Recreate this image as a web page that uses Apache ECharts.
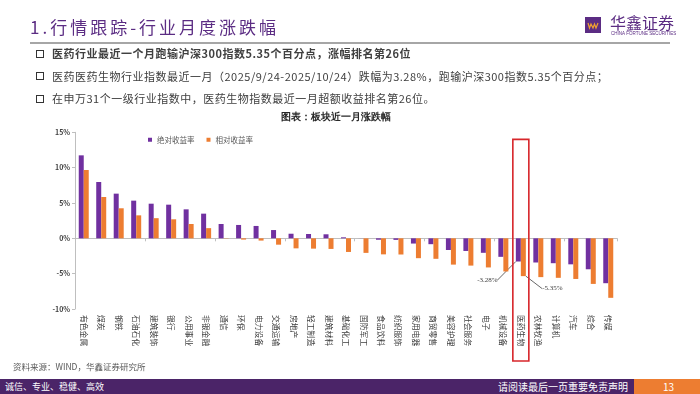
<!DOCTYPE html>
<html><head><meta charset="utf-8">
<script src="https://cdn.jsdelivr.net/npm/echarts@6/dist/echarts.min.js"></script>
<style>
html,body{margin:0;padding:0;width:700px;height:394px;overflow:hidden;background:#fff;font-family:"Noto Sans CJK SC","Noto Sans",sans-serif;}
#chart{position:absolute;left:0;top:0;width:700px;height:394px;}
.t{position:absolute;white-space:nowrap;line-height:1;z-index:5;}
.sq{position:absolute;width:6px;height:6px;border:1.6px solid #333;z-index:5;}
.bul{font-size:11px;letter-spacing:0.5px;color:#404040;left:52px;}
</style></head><body>
<div id="chart"></div>
<div class="t" style="left:30px;top:18px;font-size:17px;letter-spacing:3px;color:#5B2C83;">1.行情跟踪-行业月度涨跌幅</div>
<div style="position:absolute;left:30px;top:42px;width:640px;height:2px;background:#A6A6A6;"></div>
<div class="t" style="left:610px;top:14px;font-size:16px;color:#5B2C83;">华鑫证券</div>
<div class="sq" style="left:36px;top:49.5px;"></div>
<div class="sq" style="left:36px;top:72px;"></div>
<div class="sq" style="left:36px;top:94.5px;"></div>
<div class="t bul" style="top:48px;font-weight:bold;">医药行业最近一个月跑输沪深300指数5.35个百分点，涨幅排名第26位</div>
<div class="t bul" style="top:70.5px;">医药医药生物行业指数最近一月（2025/9/24-2025/10/24）跌幅为3.28%，跑输沪深300指数5.35个百分点；</div>
<div class="t bul" style="top:93px;">在申万31个一级行业指数中，医药生物指数最近一月超额收益排名第26位。</div>
<div class="t" style="left:13px;top:362px;font-size:8.5px;color:#595959;">资料来源：WIND，华鑫证券研究所</div>
<div style="position:absolute;left:0;top:379px;width:700px;height:15px;background:#4B2468;z-index:4;"></div>
<div style="position:absolute;left:634px;top:379px;width:66px;height:15px;background:#ED7D31;z-index:4;"></div>
<div class="t" style="left:5px;top:382px;font-size:9px;color:#fff;">诚信、专业、稳健、高效</div>
<div class="t" style="left:498px;top:381.5px;font-size:10px;color:#fff;">请阅读最后一页重要免责声明</div>
<div class="t" style="left:663px;top:381.5px;font-size:10px;color:#fff;">13</div>
<script>
const categories = ['有色金属','煤炭','钢铁','石油石化','建筑装饰','银行','公用事业','非银金融','通信','环保','电力设备','交通运输','房地产','轻工制造','建筑材料','基础化工','国防军工','食品饮料','纺织服饰','家用电器','商贸零售','美容护理','社会服务','电子','机械设备','医药生物','农林牧渔','计算机','汽车','综合','传媒'];
const absReturn = [11.74,7.97,6.32,5.33,4.90,4.76,4.10,3.49,2.03,1.89,1.75,1.17,0.65,0.61,0.57,0.14,0.01,-0.20,-0.22,-0.74,-0.83,-1.65,-1.79,-2.05,-2.62,-3.28,-3.42,-3.52,-3.68,-4.38,-6.35];
const relReturn = [9.67,5.85,4.25,3.25,2.85,2.69,2.03,1.44,-0.04,-0.18,-0.32,-0.90,-1.42,-1.46,-1.50,-1.93,-2.06,-2.27,-2.29,-2.81,-2.90,-3.72,-3.86,-4.12,-4.69,-5.35,-5.49,-5.59,-5.75,-6.45,-8.42];
const yTicks = [-10,-5,0,5,10,15];
const seriesNames = ['绝对收益率','相对收益率'];
const highlight = '医药生物';
const chartTitle = '图表：板块近一月涨跌幅';

const chart = echarts.init(document.getElementById('chart'), null, {renderer:'canvas'});
function mk(arr){
  return arr.map((v,i)=> categories[i]===highlight ? {value:v, label:{show:true}, labelLine:{show:true}} : v);
}
const lbl = {show:false, position:'bottom', distance:0, fontSize:7, color:'#404040', fontFamily:'Liberation Serif',
  formatter:p=>p.value.toFixed(2)+'%'};
const ll = {show:false, lineStyle:{color:'#404040', width:0.8}};
chart.setOption({
  animation:false,
  textStyle:{fontFamily:'"Noto Sans CJK SC", sans-serif'},
  grid:{left:75, right:83, top:132.3, bottom:85},
  legend:{left:148, top:136, itemWidth:4, itemHeight:4, itemGap:12, padding:0, icon:'rect',
    textStyle:{fontSize:7.5, color:'#595959'}, data:seriesNames},
  xAxis:[
    {type:'category', data:categories, position:'bottom', axisLine:{show:false, onZero:false}, axisTick:{show:false},
     axisLabel:{interval:0, rotate:-90, fontSize:7.8, color:'#404040', margin:6}},
    {type:'category', data:categories, position:'bottom', axisLine:{show:true, onZero:true, lineStyle:{color:'#BFBFBF', width:1}},
     axisTick:{show:true, length:3, lineStyle:{color:'#BFBFBF'}}, axisLabel:{show:false}}
  ],
  yAxis:{type:'value', min:yTicks[0], max:yTicks[yTicks.length-1], interval:5,
    axisLine:{show:true, lineStyle:{color:'#BFBFBF'}}, axisTick:{show:true, length:3, lineStyle:{color:'#BFBFBF'}},
    splitLine:{show:false}, axisLabel:{formatter:'{value}%', fontSize:7, fontWeight:'bold', color:'#404040', margin:5}},
  series:[
    {name:seriesNames[0], type:'bar', data:mk(absReturn), barWidth:5, barGap:'0%', itemStyle:{color:'#7030A0'},
     label:lbl, labelLine:ll, labelLayout:()=>({dx:-31, dy:15})},
    {name:seriesNames[1], type:'bar', data:mk(relReturn), barWidth:5, barGap:'0%', itemStyle:{color:'#ED7D31'},
     label:lbl, labelLine:ll, labelLayout:()=>({dx:29, dy:9})}
  ]
});
const cx = chart.convertToPixel({xAxisIndex:0}, highlight);
const yTop = chart.convertToPixel({yAxisIndex:0}, 14);
chart.setOption({graphic:[
  {type:'text', style:{x:336, y:117, text:chartTitle, textAlign:'center', textVerticalAlign:'middle', fontSize:10, fontWeight:'bold', fill:'#262626', font:'bold 10px "Noto Sans CJK SC"'}},
  {type:'rect', shape:{x:cx-8, y:yTop, width:16, height:361-yTop}, style:{fill:'none', stroke:'#D7262B', lineWidth:1.6}, z:100},
  {type:'rect', shape:{x:585, y:17, width:16, height:16}, style:{fill:'#5B2C83'}},
  {type:'polyline', shape:{points:[[588,23],[589.5,28],[591,24],[593,28],[594.5,24],[596,28],[598,23]]}, style:{stroke:'#F0A030', lineWidth:1.2, fill:'none'}},
  {type:'text', style:{x:611, y:34, text:'CHINA FORTUNE SECURITIES', fontSize:4.5, fill:'#5B2C83', textVerticalAlign:'middle'}}
]});
</script>
</body></html>
